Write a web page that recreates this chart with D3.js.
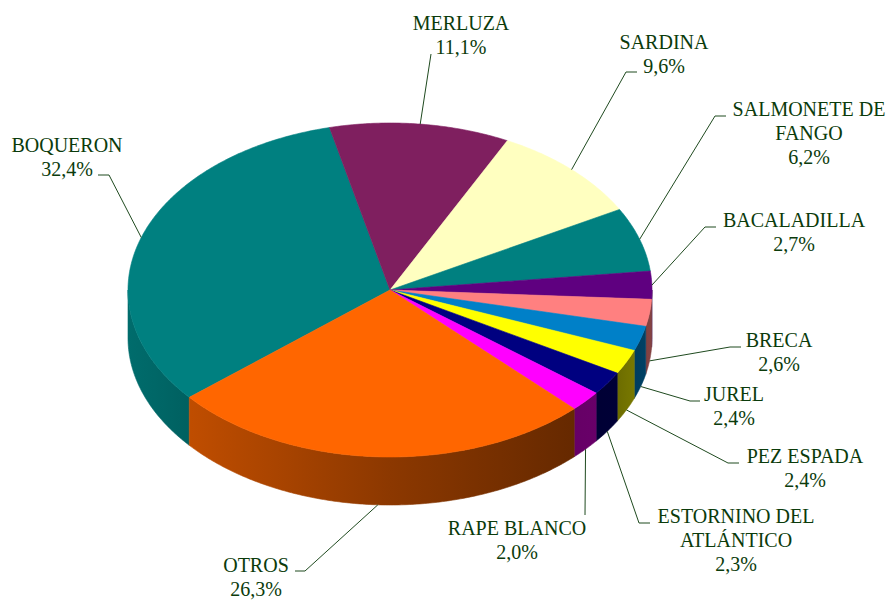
<!DOCTYPE html>
<html>
<head>
<meta charset="utf-8">
<style>
    body { margin: 0; background: #fff; }
    .leader { fill: none; stroke: #1f4a1f; stroke-width: 1; }
</style>
<script src="https://cdn.jsdelivr.net/npm/d3@7"></script>
</head>
<body>
<svg id="chart" width="893" height="600"></svg>
<script>
    // data, clockwise from the BOQUERON slice
    var categories = ["BOQUERON", "MERLUZA", "SARDINA", "SALMONETE DE FANGO", "BACALADILLA", "BRECA",
        "JUREL", "PEZ ESPADA", "ESTORNINO DEL ATLÁNTICO", "RAPE BLANCO", "OTROS"];
    var shares = [32.4, 11.1, 9.6, 6.2, 2.7, 2.6, 2.4, 2.4, 2.3, 2.0, 26.3];
    var colors = ["#008080", "#7f1f5f", "#ffffc0", "#008080", "#5f0080", "#ff8080",
        "#0080c8", "#ffff00", "#000080", "#ff00ff", "#ff6600"];
    // how the names wrap in the labels
    var labelLines = [["BOQUERON"], ["MERLUZA"], ["SARDINA"], ["SALMONETE DE", "FANGO"], ["BACALADILLA"], ["BRECA"],
        ["JUREL"], ["PEZ ESPADA"], ["ESTORNINO DEL", "ATLÁNTICO"], ["RAPE BLANCO"], ["OTROS"]];

    // label layout: text centre / first baseline, leader knee and end
    var labelPos = [
        { x: 67, y: 152, kx: 109, ky: 175, ex: 98, ey: 175 },
        { x: 461, y: 30, kx: 431, ky: 54, ex: 431, ey: 54 },
        { x: 664, y: 49, kx: 626, ky: 72, ex: 637, ey: 72 },
        { x: 809, y: 116, kx: 715, ky: 116, ex: 726, ey: 116 },
        { x: 794, y: 227, kx: 705, ky: 227, ex: 716, ey: 227 },
        { x: 779, y: 347, kx: 730, ky: 347, ex: 741, ey: 347 },
        { x: 734, y: 401, kx: 690, ky: 401, ex: 700, ey: 401 },
        { x: 805, y: 463, kx: 728, ky: 463, ex: 739, ey: 463 },
        { x: 736, y: 523, kx: 639, ky: 523, ex: 650, ey: 523 },
        { x: 517, y: 535, kx: 585, ky: 515, ex: 585, ey: 515 },
        { x: 256, y: 572, kx: 305, ky: 571, ex: 295, ey: 571 }
    ];

    var cx = 390, cy = 290, rx = 262, ry = 167, depth = 48;
    var lineHeight = 23.8;

    var svg = d3.select("#chart");
    var defs = svg.append("defs");

    var start = -130 * Math.PI / 180;
    var pie = d3.pie().sort(null).startAngle(start).endAngle(start + 2 * Math.PI);
    var arcs = pie(shares);

    function pt(a, dy) {
        return [cx + rx * Math.sin(a), cy - ry * Math.cos(a) + (dy || 0)];
    }

    function ring(a0, a1, dy) {
        var n = Math.max(2, Math.ceil(Math.abs(a1 - a0) / 0.01));
        return d3.range(n + 1).map(function (i) { return pt(a0 + (a1 - a0) * i / n, dy); });
    }

    // parts of a slice that face the viewer (lower half of the ellipse)
    function frontParts(a0, a1) {
        var parts = [];
        [[Math.PI / 2, 3 * Math.PI / 2], [-3 * Math.PI / 2, -Math.PI / 2]].forEach(function (f) {
            var s = Math.max(a0, f[0]), e = Math.min(a1, f[1]);
            if (e > s) parts.push([s, e]);
        });
        return parts;
    }

    function dim(c, f) {
        var r = d3.rgb(c);
        return d3.rgb(r.r * f, r.g * f, r.b * f).formatHex();
    }

    var shade = [[0, 0.84], [0.12, 0.75], [0.5, 0.55], [0.85, 0.40], [0.93, 0.42], [1, 0.52]];
    var line = d3.line();

    // side walls
    arcs.forEach(function (d, i) {
        var grad = defs.append("linearGradient")
            .attr("id", "side" + i)
            .attr("gradientUnits", "userSpaceOnUse")
            .attr("x1", cx - rx).attr("x2", cx + rx).attr("y1", 0).attr("y2", 0);
        shade.forEach(function (s) {
            grad.append("stop").attr("offset", s[0]).attr("stop-color", dim(colors[i], s[1]));
        });
        frontParts(d.startAngle, d.endAngle).forEach(function (p) {
            var pts = ring(p[0], p[1], 0).concat(ring(p[1], p[0], depth));
            svg.append("path")
                .attr("d", line(pts) + "Z")
                .attr("fill", "url(#side" + i + ")")
                .attr("stroke", "url(#side" + i + ")")
                .attr("stroke-width", 0.6);
        });
    });

    // top faces
    arcs.forEach(function (d, i) {
        var pts = [[cx, cy]].concat(ring(d.startAngle, d.endAngle, 0));
        svg.append("path")
            .attr("d", line(pts) + "Z")
            .attr("fill", colors[i])
            .attr("stroke", colors[i])
            .attr("stroke-width", 0.6);
    });

    // leaders and labels
    var fmt = d3.format(".1f");
    arcs.forEach(function (d, i) {
        var mid = (d.startAngle + d.endAngle) / 2;
        var front = Math.cos(mid) < 0;
        var anchor = pt(mid, front ? depth : 0);
        var lp = labelPos[i];
        svg.append("path")
            .attr("class", "leader")
            .attr("d", line([anchor, [lp.kx, lp.ky], [lp.ex, lp.ey]]));

        var text = svg.append("text")
            .attr("text-anchor", "middle")
            .attr("font-family", "Liberation Serif")
            .attr("font-size", 20)
            .attr("fill", "#0b3b0b");
        labelLines[i].concat([fmt(shares[i]).replace(".", ",") + "%"]).forEach(function (s, k) {
            text.append("tspan")
                .attr("x", lp.x)
                .attr("y", lp.y + k * lineHeight)
                .text(s);
        });
    });
</script>
</body>
</html>
